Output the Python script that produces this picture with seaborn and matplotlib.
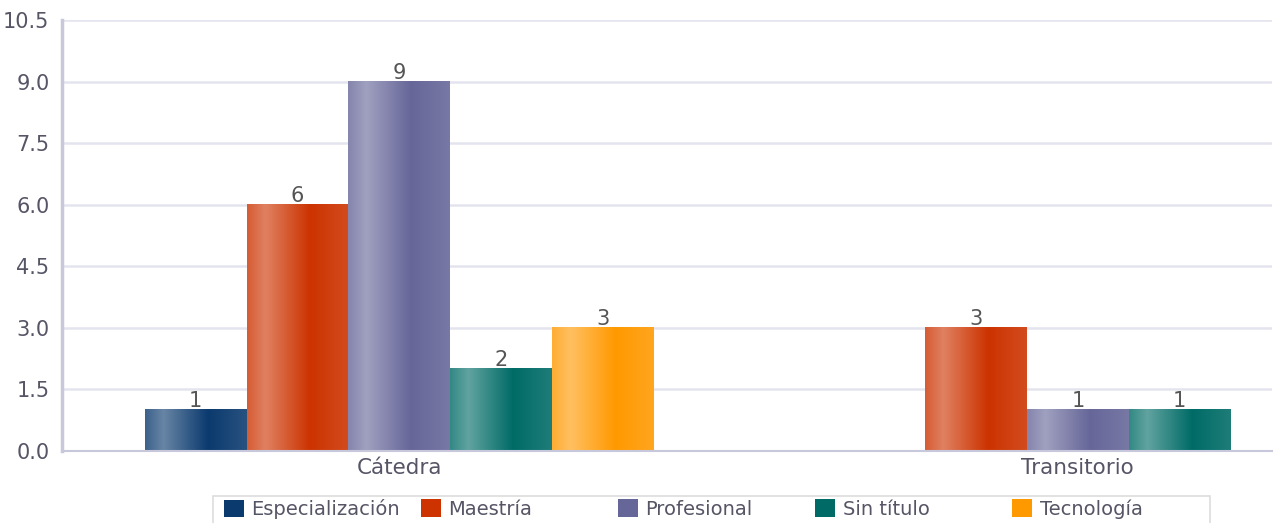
import numpy as np
import pandas as pd
import matplotlib
matplotlib.use("Agg")
import matplotlib.pyplot as plt
from matplotlib.colors import LinearSegmentedColormap, to_rgb
from matplotlib.patches import Patch, Rectangle
import seaborn as sns

# ---- data ----
categories = ["Cátedra", "Transitorio"]
series = ["Especialización", "Maestría", "Profesional", "Sin título", "Tecnología"]
especializacion = [1, None]
maestria = [6, 3]
profesional = [9, 1]
sin_titulo = [2, 1]
tecnologia = [3, None]
yticks = [0.0, 1.5, 3.0, 4.5, 6.0, 7.5, 9.0, 10.5]

colors = ["#0b3a6e", "#cc3300", "#666699", "#006b66", "#ff9900"]

values = [especializacion, maestria, profesional, sin_titulo, tecnologia]
bar_w = 0.15
rows = []
for ci, cat in enumerate(categories):
    present = [(s, v[ci]) for s, v in zip(series, values) if v[ci] is not None]
    n = len(present)
    for k, (s, val) in enumerate(present):
        pos = ci + (k - (n - 1) / 2) * bar_w
        rows.append({"pos": round(pos, 6), "value": val, "series": s, "cat": cat})
df = pd.DataFrame(rows)

sns.set_theme(style="white")
plt.rcParams["font.family"] = ["DejaVu Sans"]

W, H = 1275, 523
fig = plt.figure(figsize=(W / 100, H / 100), dpi=100)
ax = fig.add_axes([62 / W, 1 - 451 / H, 1 - 62 / W - 0.002, (451 - 20) / H])

sns.barplot(data=df, x="pos", y="value", hue="series", hue_order=series,
            palette=colors, native_scale=True, dodge=False, width=1.0,
            errorbar=None, legend=False, ax=ax, linewidth=0, saturation=1)

def mix(c, w):
    r = np.array(to_rgb(c))
    return tuple(r + (1 - r) * w)

# gradient overlay
for cont, col in zip(ax.containers, colors):
    cmap = LinearSegmentedColormap.from_list(
        "g", [(0.0, mix(col, 0.2)), (0.18, mix(col, 0.38)), (0.62, mix(col, 0.0)), (1.0, mix(col, 0.12))])
    grad = np.linspace(0, 1, 256).reshape(1, -1)
    for p in cont.patches:
        x0, y0 = p.get_x(), p.get_y()
        w, h = p.get_width(), p.get_height()
        if not np.isfinite(h) or h == 0:
            continue
        ax.imshow(grad, cmap=cmap, extent=(x0, x0 + w, y0, y0 + h), aspect="auto",
                  zorder=p.get_zorder() + 0.1, interpolation="bicubic")
    labels = [f"{p.get_height():.0f}" if np.isfinite(p.get_height()) and p.get_height() > 0 else ""
              for p in cont.patches]
    ax.bar_label(cont, labels=labels, padding=-1, fontsize=15, color="#555555")

ax.set_xlim((62 - 400) / 680, (1275 - 400) / 680)
ax.set_ylim(0, 10.5)
ax.set_yticks(yticks)
ax.set_yticklabels([f"{t:.1f}" for t in yticks], fontsize=15, color="#555566")
ax.set_xticks(range(len(categories)))
ax.set_xticklabels(categories, fontsize=15.5, color="#555566")
ax.tick_params(axis="y", length=0, pad=9)
ax.tick_params(axis="x", length=0, pad=5)
ax.set_xlabel("")
ax.set_ylabel("")
ax.grid(axis="y", color="#e4e4ee", linewidth=1.8)
ax.set_axisbelow(True)
for s in ["top", "right"]:
    ax.spines[s].set_visible(False)
ax.spines["left"].set_color("#c8c8dc")
ax.spines["left"].set_linewidth(2.5)
ax.spines["bottom"].set_color("#c8c8dc")
ax.spines["bottom"].set_linewidth(1.5)

# legend: frame + equally spaced entries
top_px = 496
fig.add_artist(Rectangle((213 / W, -0.05), (1210 - 213) / W, 1 - top_px / H + 0.05,
                         transform=fig.transFigure, facecolor="white",
                         edgecolor="#dddddd", linewidth=1.2, zorder=1))
slot0, slot = 222, 197
for i, (name, col) in enumerate(zip(series, colors)):
    leg = fig.legend([Patch(facecolor=col, edgecolor="none")], [name], loc="upper left",
                     bbox_to_anchor=((slot0 + i * slot) / W, 1 - (top_px + 1) / H),
                     frameon=False, fontsize=14, handlelength=1.0, handleheight=1.0,
                     handletextpad=0.4, borderpad=0.12, borderaxespad=0,
                     labelcolor="#555566")
    leg.set_zorder(2)

fig.savefig("out.png", dpi=100)
